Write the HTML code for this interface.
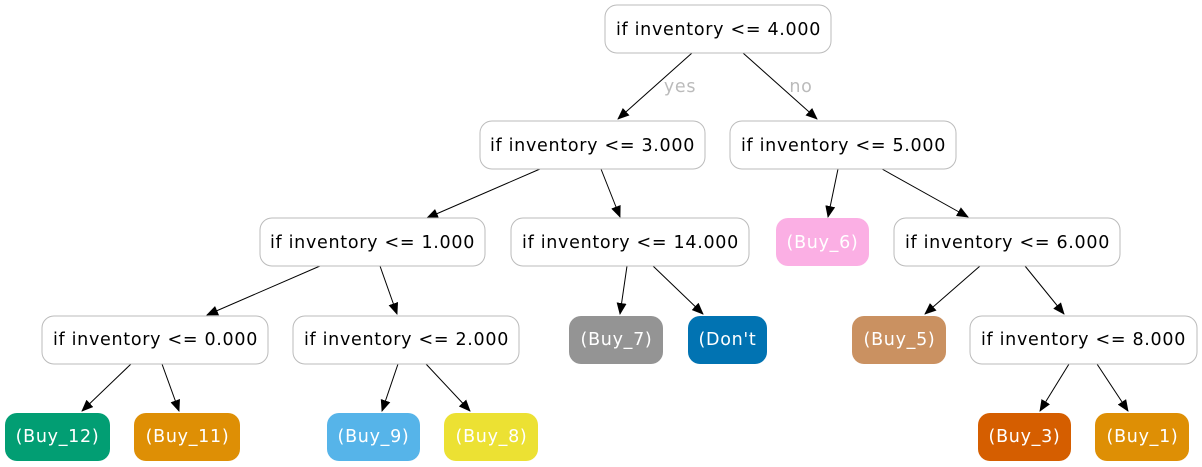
<!DOCTYPE html>
<html><head><meta charset="utf-8"><style>
html,body{margin:0;padding:0;background:#fff;width:1202px;height:467px;overflow:hidden}
text{font-family:"DejaVu Sans","Liberation Sans",sans-serif;font-size:17.5px;letter-spacing:0.7px}
</style></head><body>
<svg width="1202" height="467" xmlns="http://www.w3.org/2000/svg">
<defs><marker id="a" markerWidth="12" markerHeight="10" refX="11" refY="5" orient="auto" markerUnits="userSpaceOnUse"><path d="M0,0L12,5L0,10z" fill="#000"/></marker></defs>
<g stroke="#000" stroke-width="1" marker-end="url(#a)">
<line x1="692" y1="53" x2="618" y2="119"/><line x1="743" y1="53" x2="817" y2="119"/>
<line x1="540" y1="169" x2="427" y2="218"/><line x1="601" y1="169" x2="620" y2="217"/>
<line x1="838" y1="169" x2="828" y2="217"/><line x1="882" y1="169" x2="968" y2="217"/>
<line x1="320" y1="266" x2="207" y2="315"/><line x1="380" y1="266" x2="397" y2="314"/>
<line x1="627" y1="266" x2="620" y2="314"/><line x1="653" y1="266" x2="703" y2="314"/>
<line x1="980" y1="266" x2="925" y2="314"/><line x1="1025" y1="266" x2="1064" y2="314"/>
<line x1="131" y1="364" x2="82" y2="411"/><line x1="162" y1="364" x2="179" y2="411"/>
<line x1="398" y1="364" x2="382" y2="411"/><line x1="426" y1="364" x2="470" y2="411"/>
<line x1="1069" y1="364" x2="1040" y2="411"/><line x1="1097" y1="364" x2="1128" y2="411"/>
</g>
<text x="680" y="92" fill="#bbb" text-anchor="middle">yes</text>
<text x="801" y="92" fill="#bbb" text-anchor="middle">no</text>
<g fill="#fff" stroke="#bbb">
<rect x="605" y="5" width="226" height="48" rx="12"/>
<rect x="480" y="121" width="225" height="48" rx="12"/>
<rect x="730" y="121" width="226" height="48" rx="12"/>
<rect x="260" y="218" width="225" height="48" rx="12"/>
<rect x="511" y="218" width="238" height="48" rx="12"/>
<rect x="894" y="218" width="226" height="48" rx="12"/>
<rect x="42" y="316" width="226" height="48" rx="12"/>
<rect x="293" y="316" width="226" height="48" rx="12"/>
<rect x="970" y="316" width="227" height="48" rx="12"/>
</g>
<g text-anchor="middle" fill="#000">
<text x="718.5" y="35">if inventory &lt;= 4.000</text>
<text x="592.5" y="151">if inventory &lt;= 3.000</text>
<text x="843.5" y="151">if inventory &lt;= 5.000</text>
<text x="372.5" y="248">if inventory &lt;= 1.000</text>
<text x="630.5" y="248">if inventory &lt;= 14.000</text>
<text x="1007.5" y="248">if inventory &lt;= 6.000</text>
<text x="155.5" y="345">if inventory &lt;= 0.000</text>
<text x="406.5" y="345">if inventory &lt;= 2.000</text>
<text x="1083.5" y="345">if inventory &lt;= 8.000</text>
</g>
<g>
<rect x="776" y="218" width="93" height="48" rx="12" fill="#fbafe4"/>
<rect x="569" y="316" width="94" height="48" rx="12" fill="#949494"/>
<rect x="688" y="316" width="79" height="48" rx="12" fill="#0173b2"/>
<rect x="852" y="316" width="94" height="48" rx="12" fill="#ca9161"/>
<rect x="5" y="413" width="105" height="48" rx="12" fill="#029e73"/>
<rect x="134" y="413" width="106" height="48" rx="12" fill="#de8f05"/>
<rect x="327" y="413" width="93" height="48" rx="12" fill="#56b4e9"/>
<rect x="444" y="413" width="94" height="48" rx="12" fill="#ece133"/>
<rect x="978" y="413" width="93" height="48" rx="12" fill="#d55e00"/>
<rect x="1095" y="413" width="94" height="48" rx="12" fill="#de8f05"/>
</g>
<g text-anchor="middle" fill="#fff">
<text x="822.5" y="248">(Buy_6)</text>
<text x="616.5" y="345">(Buy_7)</text>
<text x="727.5" y="345">(Don't</text>
<text x="899.5" y="345">(Buy_5)</text>
<text x="57.5" y="442">(Buy_12)</text>
<text x="187.5" y="442">(Buy_11)</text>
<text x="373.5" y="442">(Buy_9)</text>
<text x="491.5" y="442">(Buy_8)</text>
<text x="1024.5" y="442">(Buy_3)</text>
<text x="1142.5" y="442">(Buy_1)</text>
</g>
</svg>
</body></html>
